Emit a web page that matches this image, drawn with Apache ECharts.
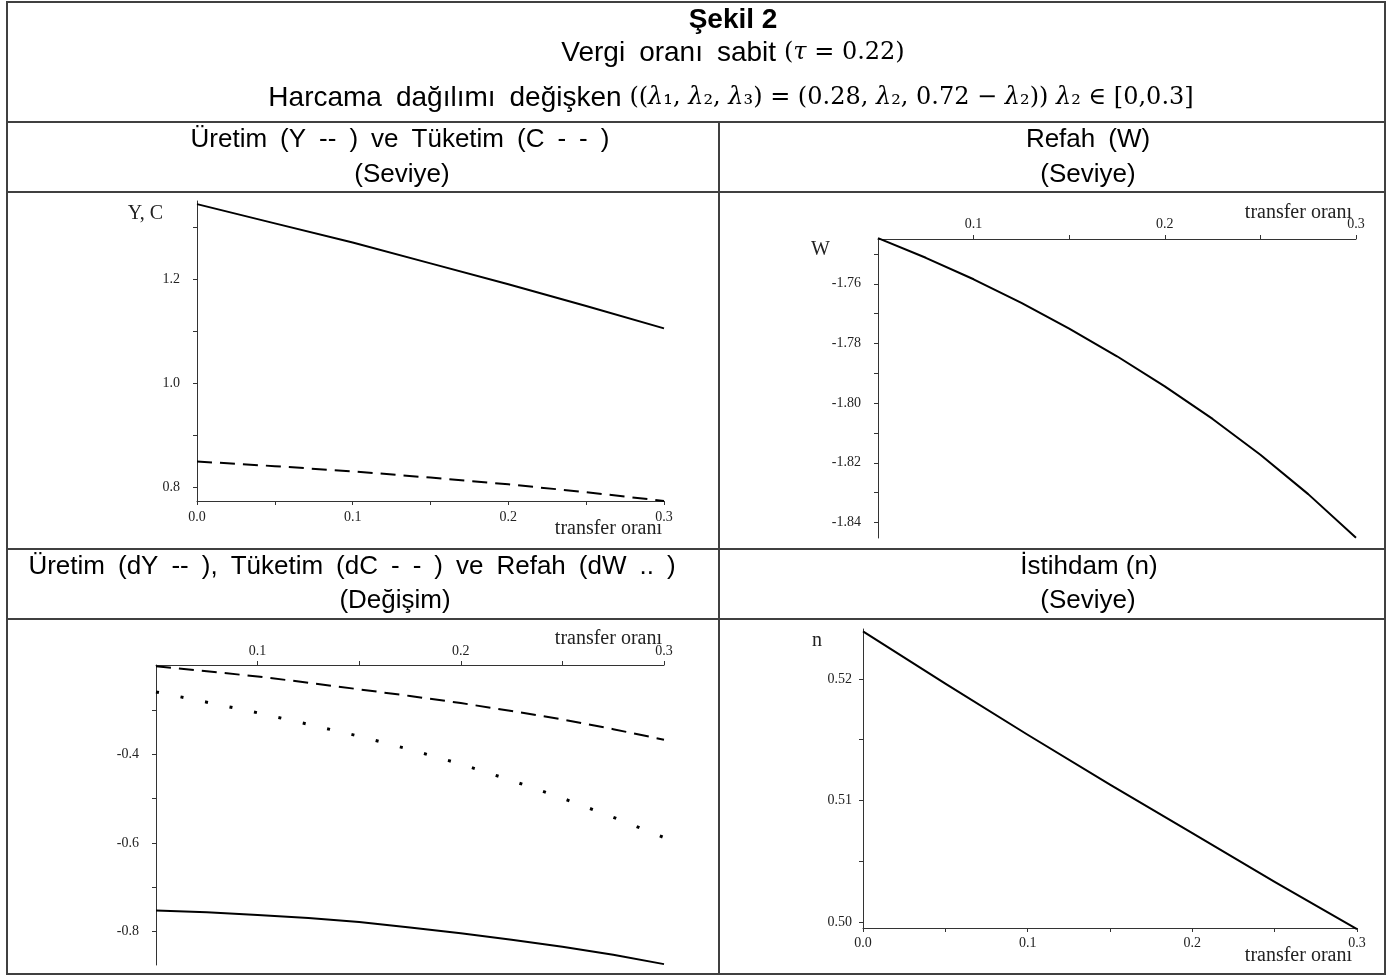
<!DOCTYPE html>
<html>
<head>
<meta charset="utf-8">
<script src="https://cdn.jsdelivr.net/npm/echarts@6/dist/echarts.min.js"></script>
<style>
  html, body { margin: 0; padding: 0; background: #fff; }
  #c { width: 1397px; height: 978px; }
</style>
</head>
<body>
<div id="c"></div>
<script>
// ---- data: transfer rate on x, model outcomes on y ----
const xLevel = [0, 0.05, 0.1, 0.15, 0.2, 0.25, 0.3];
const outputY = [1.344, 1.307, 1.270, 1.230, 1.190, 1.148, 1.105];
const consumptionC = [0.849, 0.840, 0.830, 0.818, 0.805, 0.790, 0.773];
const employmentN = [0.5239, 0.5196, 0.5154, 0.5113, 0.5073, 0.5033, 0.4994];

const xFrom05 = [0.05, 0.075, 0.1, 0.125, 0.15, 0.175, 0.2, 0.225, 0.25, 0.275, 0.3];
const welfareW = [-1.7447, -1.7513, -1.7585, -1.7664, -1.7750, -1.7843, -1.7944, -1.8053, -1.8173, -1.8305, -1.8451];
const changeDY = [-0.753, -0.757, -0.763, -0.770, -0.779, -0.791, -0.804, -0.819, -0.835, -0.853, -0.874];
const changeDC = [-0.201, -0.212, -0.224, -0.238, -0.253, -0.268, -0.284, -0.302, -0.321, -0.343, -0.367];
const changeDW = [-0.259, -0.282, -0.306, -0.332, -0.359, -0.389, -0.422, -0.459, -0.499, -0.542, -0.588];

// ---- tick marks and labelled ticks ----
const xTicksFull = [0, 0.05, 0.1, 0.15, 0.2, 0.25, 0.3];
const xLabelsFull = [0, 0.1, 0.2, 0.3];
const xTicksPart = [0.1, 0.15, 0.2, 0.25, 0.3];
const xLabelsPart = [0.1, 0.2, 0.3];
const yTicksYC = [0.8, 0.9, 1.0, 1.1, 1.2, 1.3];
const yLabelsYC = [0.8, 1.0, 1.2];
const yTicksW = [-1.84, -1.83, -1.82, -1.81, -1.80, -1.79, -1.78, -1.77, -1.76, -1.75];
const yLabelsW = [-1.84, -1.82, -1.80, -1.78, -1.76];
const yTicksD = [-0.8, -0.7, -0.6, -0.5, -0.4, -0.3];
const yLabelsD = [-0.8, -0.6, -0.4];
const yTicksN = [0.500, 0.505, 0.510, 0.515, 0.520];
const yLabelsN = [0.50, 0.51, 0.52];

const SANS = '"Liberation Sans", Arial, Helvetica, sans-serif';
const SERIF = '"Liberation Serif", "Times New Roman", serif';
const MATH = '"DejaVu Serif", "Liberation Serif", serif';
const AXIS_COLOR = '#333';
const INK = '#000';
const EN = '\u2002'; // en space, used for the wide word gaps of the headings

const pairs = (xs, ys) => xs.map((x, i) => [x, ys[i]]);
const spread = s => s.split(' ').join(EN);

function xAxisOf(gridIndex, o) {
  return {
    type: 'value', gridIndex, min: o.min, max: 0.3, position: o.position,
    splitLine: { show: false },
    axisLine: { onZero: false, lineStyle: { color: AXIS_COLOR, width: 1 } },
    axisTick: { customValues: o.ticks, length: 4, lineStyle: { color: AXIS_COLOR } },
    axisLabel: {
      customValues: o.labels, formatter: v => v.toFixed(1),
      fontFamily: SERIF, fontSize: 14, color: '#222', margin: o.margin
    },
    name: 'transfer oranı', nameLocation: 'end', nameGap: o.nameGap, nameMoveOverlap: false,
    nameTextStyle: {
      fontFamily: SERIF, fontSize: 20, color: '#222', align: 'right',
      verticalAlign: o.position === 'top' ? 'bottom' : 'top',
      padding: o.position === 'top' ? [0, 0, 16, 0] : [18, 0, 0, 0]
    }
  };
}

function yAxisOf(gridIndex, o) {
  return {
    type: 'value', gridIndex, min: o.min, max: o.max,
    splitLine: { show: false },
    axisLine: { onZero: false, lineStyle: { color: AXIS_COLOR, width: 1 } },
    axisTick: { customValues: o.ticks, length: 4, lineStyle: { color: AXIS_COLOR } },
    axisLabel: {
      customValues: o.labels, formatter: v => v.toFixed(o.digits),
      fontFamily: SERIF, fontSize: 14, color: '#222', margin: o.margin
    },
    name: o.name || '', nameLocation: 'end', nameGap: o.nameGap, nameMoveOverlap: false,
    nameTextStyle: {
      fontFamily: SERIF, fontSize: 20, color: '#222', align: 'right', verticalAlign: 'middle',
      padding: [0, o.namePad || 0, 0, 0]
    }
  };
}

function curve(xi, data, type, width) {
  return {
    type: 'line', xAxisIndex: xi, yAxisIndex: xi, data, symbol: 'none',
    smooth: false, clip: false, silent: true,
    lineStyle: { color: INK, width: width || 2, type: type || 'solid', cap: 'butt', join: 'round' }
  };
}

function text(x, y, t, size, weight) {
  return {
    type: 'text', x, y, silent: true,
    style: { text: t, font: (weight || 'normal') + ' ' + size + 'px ' + SANS, fill: '#000', align: 'center', verticalAlign: 'middle' }
  };
}
function hline(y, x1, x2) {
  return { type: 'line', silent: true, shape: { x1, y1: y, x2, y2: y }, style: { stroke: '#404040', lineWidth: 2 } };
}
function vline(x, y1, y2) {
  return { type: 'line', silent: true, shape: { x1: x, y1, x2: x, y2 }, style: { stroke: '#404040', lineWidth: 2 } };
}

const richTitle = {
  a: { fontFamily: SANS, fontSize: 28, color: '#000' },
  m: { fontFamily: MATH, fontSize: 24, color: '#2a2a36' },
  i: { fontFamily: MATH, fontSize: 24, fontStyle: 'italic', color: '#2a2a36' }
};

const option = {
  backgroundColor: '#fff',
  animation: false,
  grid: [
    { left: 197, top: 201, width: 467, height: 300 },
    { left: 878, top: 239, width: 478, height: 299 },
    { left: 156, top: 665, width: 508, height: 300 },
    { left: 863, top: 629, width: 494, height: 299 }
  ],
  xAxis: [
    xAxisOf(0, { min: 0, position: 'bottom', ticks: xTicksFull, labels: xLabelsFull, margin: 9, nameGap: -2 }),
    xAxisOf(1, { min: 0.05, position: 'top', ticks: xTicksPart, labels: xLabelsPart, margin: 8, nameGap: -4 }),
    xAxisOf(2, { min: 0.05, position: 'top', ticks: xTicksPart, labels: xLabelsPart, margin: 7, nameGap: -2 }),
    xAxisOf(3, { min: 0, position: 'bottom', ticks: xTicksFull, labels: xLabelsFull, margin: 8, nameGap: -5 })
  ],
  yAxis: [
    yAxisOf(0, { min: 0.773, max: 1.350, ticks: yTicksYC, labels: yLabelsYC, digits: 1, margin: 17, name: 'Y, C', nameGap: -13, namePad: 34 }),
    yAxisOf(1, { min: -1.8452, max: -1.745, ticks: yTicksW, labels: yLabelsW, digits: 2, margin: 17, name: 'W', nameGap: -11, namePad: 48 }),
    yAxisOf(2, { min: -0.876, max: -0.198, ticks: yTicksD, labels: yLabelsD, digits: 1, margin: 17 }),
    yAxisOf(3, { min: 0.4995, max: 0.5241, ticks: yTicksN, labels: yLabelsN, digits: 2, margin: 11, name: 'n', nameGap: -12, namePad: 41 })
  ],
  series: [
    curve(0, pairs(xLevel, outputY)),
    curve(0, pairs(xLevel, consumptionC), [15, 8]),
    curve(1, pairs(xFrom05, welfareW)),
    curve(2, pairs(xFrom05, changeDY)),
    curve(2, pairs(xFrom05, changeDC), [15, 8]),
    curve(2, pairs(xFrom05, changeDW), [3, 22], 3),
    curve(3, pairs(xLevel, employmentN))
  ],
  graphic: [
    { type: 'rect', silent: true, shape: { x: 7, y: 2, width: 1378, height: 972 }, style: { fill: null, stroke: '#404040', lineWidth: 2 } },
    hline(122, 7, 1385),
    hline(192, 7, 1385),
    hline(549, 7, 1385),
    hline(619, 7, 1385),
    vline(719, 122, 974),
    text(733, 20, 'Şekil 2', 28, 'bold'),
    {
      type: 'text', x: 733, y: 53, silent: true,
      style: {
        text: '{a|' + spread('Vergi oranı sabit') + ' }{m|(}{i|τ}{m| = 0.22)}',
        rich: richTitle, align: 'center', verticalAlign: 'middle'
      }
    },
    {
      type: 'text', x: 731, y: 98, silent: true,
      style: {
        text: '{a|' + spread('Harcama dağılımı değişken') + ' }{m|((}{i|λ}{m|₁, }{i|λ}{m|₂, }{i|λ}{m|₃) = (0.28, }{i|λ}{m|₂, 0.72 − }{i|λ}{m|₂)) }{i|λ}{m|₂ ∈ [0,0.3]}',
        rich: richTitle, align: 'center', verticalAlign: 'middle'
      }
    },
    text(400, 140, spread('Üretim (Y -- ) ve Tüketim (C - - )'), 26),
    text(402, 175, '(Seviye)', 26),
    text(1088, 140, spread('Refah (W)'), 26),
    text(1088, 175, '(Seviye)', 26),
    text(352, 567, spread('Üretim (dY -- ), Tüketim (dC - - ) ve Refah (dW .. )'), 26),
    text(395, 601, '(Değişim)', 26),
    text(1089, 567, 'İstihdam (n)', 26),
    text(1088, 601, '(Seviye)', 26)
  ]
};

const chart = echarts.init(document.getElementById('c'), null, { renderer: 'canvas', width: 1397, height: 978 });
chart.setOption(option);
</script>
</body>
</html>
